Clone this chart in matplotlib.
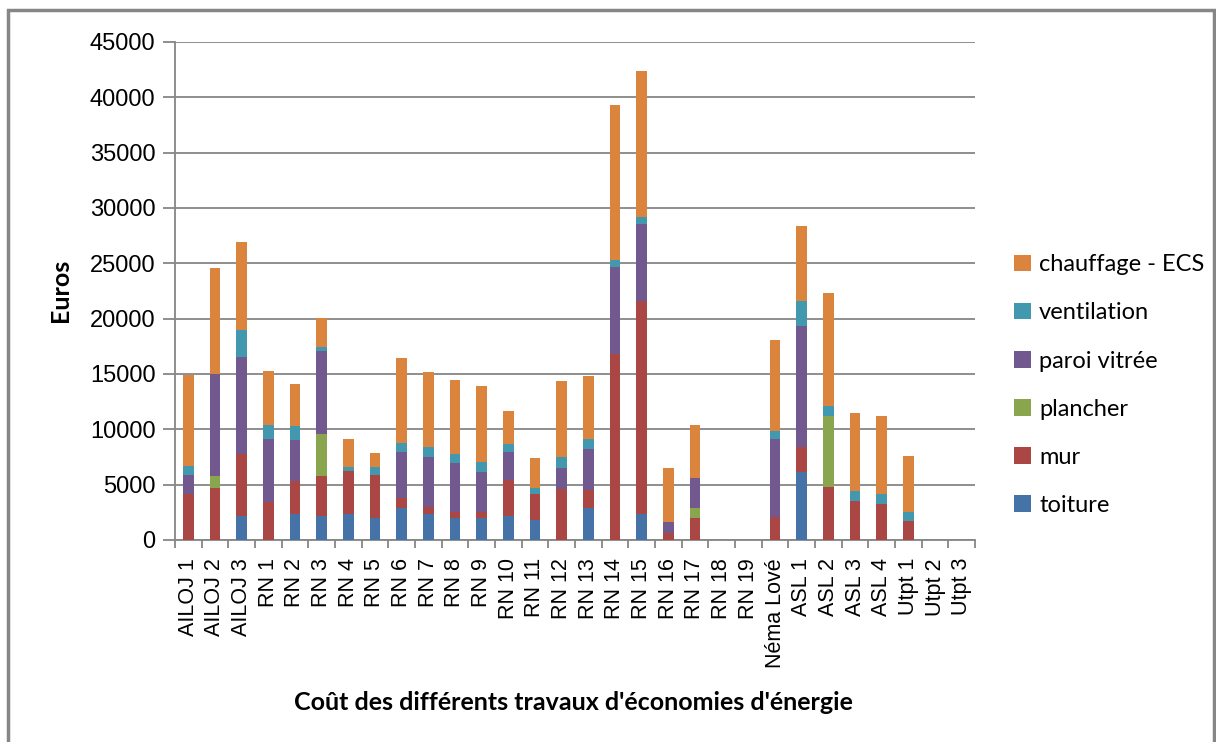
import numpy as np
import matplotlib
matplotlib.use("Agg")
import matplotlib.pyplot as plt
from matplotlib.patches import Rectangle
from matplotlib.ticker import FixedLocator, MultipleLocator

categories = ["AILOJ 1", "AILOJ 2", "AILOJ 3",
              "RN 1", "RN 2", "RN 3", "RN 4", "RN 5", "RN 6", "RN 7", "RN 8",
              "RN 9", "RN 10", "RN 11", "RN 12", "RN 13", "RN 14", "RN 15",
              "RN 16", "RN 17", "RN 18", "RN 19", "Néma Lové",
              "ASL 1", "ASL 2", "ASL 3", "ASL 4", "Utpt 1", "Utpt 2", "Utpt 3"]

toiture = [0, 0, 2150, 0, 2390, 2150, 2330, 1970, 2880, 2330, 1970, 1970, 2150,
           1790, 0, 2900, 0, 2360, 0, 0, 0, 0, 0, 6100, 0, 0, 0, 0, 0, 0]
mur = [4200, 4670, 5640, 3420, 2910, 3610, 3880, 3880, 910, 610, 550, 550, 3270,
       2360, 4580, 1630, 16850, 19200, 630, 1990, 0, 0, 2110, 2270, 4830, 3560,
       3290, 1750, 0, 0]
plancher = [0, 1090, 0, 0, 0, 3820, 0, 0, 0, 0, 0, 0, 0, 0, 0, 0, 0, 0, 0, 910,
            0, 0, 0, 0, 6350, 0, 0, 0, 0, 0]
paroi_vitree = [1650, 9270, 8790, 5700, 3730, 7540, 0, 0, 4150, 4540, 4420, 3600,
                2520, 0, 1900, 3720, 7790, 6980, 1000, 2720, 0, 0, 6980, 10970, 0,
                0, 0, 0, 0, 0]
ventilation = [800, 0, 2360, 1270, 1270, 360, 370, 730, 820, 910, 820, 910, 730,
               550, 1000, 900, 640, 630, 0, 0, 0, 0, 730, 2260, 900, 910, 910, 820,
               0, 0]
chauffage = [8250, 9550, 7980, 4910, 3820, 2550, 2540, 1270, 7720, 6820, 6720,
             6910, 3000, 2690, 6910, 5710, 14040, 13230, 4890, 4800, 0, 0, 8250,
             6800, 10250, 6980, 6980, 4980, 0, 0]

series = [("toiture", toiture, "#4572A7"),
          ("mur", mur, "#AA4643"),
          ("plancher", plancher, "#89A54E"),
          ("paroi vitrée", paroi_vitree, "#71588F"),
          ("ventilation", ventilation, "#4198AF"),
          ("chauffage - ECS", chauffage, "#DB843D")]

fig = plt.figure(figsize=(12.16, 7.42), dpi=100)
# grey outer frame of the chart area
fig.patches.append(Rectangle((8 / 1216, -0.1), 1206 / 1216, 1.1 - 10 / 742,
                             transform=fig.transFigure, fill=False,
                             edgecolor="#868686", linewidth=2.5))
ax = fig.add_axes([175 / 1216, 1 - 540 / 742, 800 / 1216, 498 / 742])

x = np.arange(len(categories))
bottom = np.zeros(len(categories))
handles = []
for name, vals, color in series:
    vals = np.array(vals, dtype=float)
    b = ax.bar(x, vals, width=0.41, bottom=bottom, color=color, label=name, zorder=3)
    handles.append(b)
    bottom += vals

ax.set_xlim(-0.5, len(categories) - 0.5)
ax.set_ylim(0, 45000)
ax.yaxis.set_major_locator(MultipleLocator(5000))
ax.grid(axis="y", color="#868686", linewidth=1.3, zorder=0)
ax.set_axisbelow(True)

for side in ["top", "right"]:
    ax.spines[side].set_visible(False)
for side in ["left", "bottom"]:
    ax.spines[side].set_color("#868686")
    ax.spines[side].set_linewidth(1.3)

tick_font = {"family": "Liberation Sans", "size": 15.5}
ax.set_xticks(x)
ax.set_xticklabels(categories, rotation=90, fontdict=tick_font, va="top")
ax.xaxis.set_minor_locator(FixedLocator(np.arange(-0.5, len(categories), 1.0)))
ax.tick_params(axis="x", which="major", length=0, pad=13)
ax.tick_params(axis="x", which="minor", length=6, color="#868686", width=1.3)
ax.tick_params(axis="y", length=9, color="#868686", width=1.3, pad=5)
for lbl in ax.get_yticklabels():
    lbl.set_fontfamily("Liberation Sans")
    lbl.set_fontsize(17)

fig.text(60 / 1216, 1 - 290 / 742, "Euros", rotation=90, ha="center", va="center",
         fontfamily="Lato", fontweight="bold", fontsize=18)
fig.text(573 / 1216, 1 - 703 / 742, "Coût des différents travaux d'économies d'énergie",
         ha="center", va="center", fontfamily="Lato", fontweight="bold", fontsize=18)

leg = fig.legend(handles[::-1], [s[0] for s in series][::-1],
                 loc="upper left", bbox_to_anchor=(993 / 1216, 1 - 233 / 742),
                 frameon=False, prop={"family": "Lato", "size": 17},
                 handlelength=0.7, handleheight=0.7, handletextpad=0.35,
                 labelspacing=1.15)

fig.savefig("out.png", dpi=100)
